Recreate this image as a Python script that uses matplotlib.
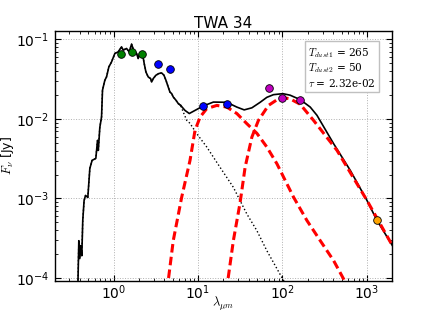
import numpy as np
import matplotlib
matplotlib.use("Agg")
import matplotlib.pyplot as plt

# ---- data ----
# stellar photosphere model (dotted) [micron], [Jy]
phot_wl = [0.375, 0.388, 0.398, 0.409, 0.421, 0.432, 0.448, 0.466, 0.496, 0.524,
           0.557, 0.617, 0.646, 0.660, 0.688, 0.721, 0.740, 0.789, 0.826, 0.880,
           0.947, 1.036, 1.134, 1.244, 1.300, 1.426, 1.531, 1.635, 1.727, 1.874,
           1.957, 2.051, 2.183, 2.306, 2.416, 2.572, 2.745, 2.823, 2.950, 3.176,
           3.447, 3.71, 3.95, 4.17, 4.44, 4.65, 4.88, 5.09, 5.48, 5.84, 6.23,
           6.69, 7.35, 8.04, 9.65, 12.7, 18.2, 26.2, 37.8, 49.7, 65.3, 98.4, 120.0]
phot_fl = [5.0e-5, 2.94e-4, 1.75e-4, 2.55e-4, 1.90e-4, 5.26e-4, 9.4e-4, 1.09e-3, 1.03e-3, 2.38e-3,
           3.01e-3, 3.19e-3, 5.37e-3, 4.02e-3, 7.83e-3, 1.06e-2, 2.30e-2, 3.07e-2, 3.38e-2, 4.51e-2,
           5.22e-2, 6.66e-2, 6.98e-2, 8.07e-2, 7.33e-2, 7.70e-2, 6.98e-2, 8.72e-2, 7.33e-2, 6.66e-2,
           5.75e-2, 6.78e-2, 6.98e-2, 4.98e-2, 3.90e-2, 3.38e-2, 3.22e-2, 2.92e-2, 3.22e-2, 3.55e-2,
           3.73e-2, 3.79e-2, 3.55e-2, 3.07e-2, 2.52e-2, 2.18e-2, 2.08e-2, 1.89e-2, 1.72e-2, 1.56e-2, 1.48e-2,
           1.22e-2, 9.6e-3, 8.8e-3, 6.53e-3, 4.43e-3, 2.47e-3, 1.38e-3, 6.39e-4, 3.94e-4, 2.20e-4, 1.01e-4, 7.1e-5]

# total model (solid) beyond the photosphere-dominated part
tot_wl = [7.01, 7.88, 9.21, 11.6, 15.2, 21.9, 28.8, 35.2, 43.4, 54.4, 65.3, 78.2,
          101, 123, 162, 213, 256, 403, 635, 1002, 1303, 2000]
tot_fl = [1.28e-2, 1.17e-2, 1.28e-2, 1.46e-2, 1.63e-2, 1.62e-2, 1.41e-2, 1.30e-2, 1.38e-2,
          1.62e-2, 1.87e-2, 2.02e-2, 2.08e-2, 1.99e-2, 1.75e-2, 1.41e-2, 1.11e-2, 4.88e-3,
          2.25e-3, 9.4e-4, 5.37e-4, 2.55e-4]

# warm dust component (T = 265 K)
d1_wl = [4.29, 5.09, 6.41, 8.04, 9.21, 10.6, 12.7, 16.7, 21.9, 28.8, 37.8, 49.7,
         65.3, 85.9, 135, 195, 280, 403, 529, 570]
d1_fl = [6.9e-5, 2.94e-4, 1.04e-3, 3.01e-3, 7.18e-3, 1.06e-2, 1.35e-2, 1.48e-2, 1.41e-2,
         1.17e-2, 8.73e-3, 6.6e-3, 4.43e-3, 2.73e-3, 1.04e-3, 5.26e-4, 2.94e-4, 1.65e-4, 9.7e-5, 8.0e-5]

# cold dust component (T = 50 K)
d2_wl = [21.5, 22.5, 26.2, 31.5, 36.1, 43.4, 51.9, 68.2, 85.9, 103, 123, 162, 233, 442, 1002, 2000]
d2_fl = [6.9e-5, 9.2e-5, 2.94e-4, 8.87e-4, 2.47e-3, 5.91e-3, 9.6e-3, 1.48e-2, 1.74e-2,
         1.85e-2, 1.79e-2, 1.53e-2, 9.6e-3, 4.02e-3, 9.4e-4, 2.55e-4]

# photometry
nir_wl = [1.235, 1.66, 2.16]
nir_fl = [0.0658, 0.0698, 0.0653]
wise_wl = [3.35, 4.6, 11.6, 22.1]
wise_fl = [0.0492, 0.043, 0.0147, 0.0156]
pacs_wl = [70, 100, 160]
pacs_fl = [0.0245, 0.0186, 0.0173]
pacs_err = [0.0012, 0.0012, 0.0016]
mm_wl = [1300]
mm_fl = [5.4e-4]
mm_err = [4e-5]

title = "TWA 34"
box_text = "$T_{dust1}$ = 265\n$T_{dust2}$ = 50\n$\\tau$ = 2.32e-02"

# ---- plotting ----
plt.rcParams['mathtext.fontset'] = 'cm'
fig = plt.figure(figsize=(4.36, 3.12), dpi=100)
ax = fig.add_axes([0.125, 0.1, 0.775, 0.8])

ax.plot(phot_wl, phot_fl, color='k', ls=':', lw=1.0)
ax.plot(phot_wl[:51], phot_fl[:51], color='k', ls='-', lw=1.2)
ax.plot([phot_wl[50]] + tot_wl, [phot_fl[50]] + tot_fl, color='k', ls='-', lw=1.2)
ax.plot(d1_wl, d1_fl, color='red', ls='--', lw=2.2, dashes=(2.8, 1.4))
ax.plot(d2_wl, d2_fl, color='red', ls='--', lw=2.2, dashes=(2.8, 1.4))

mk = dict(marker='o', ms=5.5, mec='k', mew=0.6, ls='none', zorder=5)
ax.plot(nir_wl, nir_fl, mfc=(0, 0.5, 0), **mk)
ax.plot(wise_wl, wise_fl, mfc=(0, 0, 1), **mk)
ax.errorbar(pacs_wl, pacs_fl, yerr=pacs_err, ecolor='k', elinewidth=0.8, capsize=0,
            mfc=(0.75, 0, 0.75), **mk)
ax.errorbar(mm_wl, mm_fl, yerr=mm_err, ecolor='k', elinewidth=0.8, capsize=0,
            mfc='#FFA500', **mk)

ax.set_xscale('log')
ax.set_yscale('log')
ax.set_xlim(0.2, 2000)
ax.set_ylim(9.2e-5, 0.127)
ax.grid(True, which='major', color='#b0b0b0', ls=':', lw=0.7)
ax.tick_params(which='both', direction='in', top=True, right=True, labelsize=10)
ax.tick_params(axis='x', which='both', pad=2)
ax.tick_params(which='major', length=4)
ax.tick_params(which='minor', length=2)
for s in ax.spines.values():
    s.set_linewidth(1.0)

ax.set_title(title, fontsize=11, pad=2.5)
ax.set_xlabel('$\\lambda_{\\mu m}$', fontsize=9, labelpad=-5)
ax.set_ylabel('$F_{\\nu}$ [Jy]', fontsize=9, labelpad=0)

ax.text(0.75, 0.94, box_text, transform=ax.transAxes, ha='left', va='top',
        fontsize=7.6, family='serif', linespacing=1.15,
        bbox=dict(boxstyle='square,pad=0.3', fc='white', ec='#c0c0c0', lw=1.0))

fig.savefig('out.png', dpi=100)
